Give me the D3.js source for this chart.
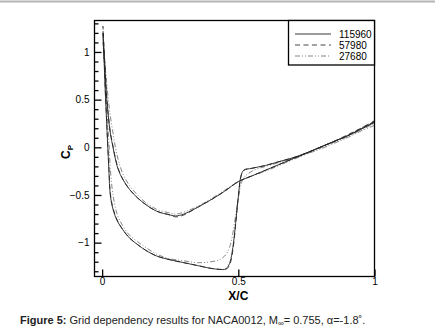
<!DOCTYPE html>
<html>
<head>
<meta http-equiv="Content-Type" content="text/html; charset=UTF-8">
<style>
body { margin: 0; background: #fff; }
text { font-family: Arial, "Liberation Sans", sans-serif; }
</style>
</head>
<body>
<svg width="435" height="332"></svg>
<script src="https://cdn.jsdelivr.net/npm/d3@7"></script>
<script>

// chordwise stations, lower (strong suction) and upper surface
var xLower = [0.003, 0.008, 0.012, 0.016, 0.02, 0.025, 0.03, 0.04, 0.055, 0.075, 0.1, 0.13, 0.16, 0.2, 0.25, 0.3, 0.35, 0.4, 0.43, 0.45, 0.46, 0.47, 0.48, 0.49, 0.5, 0.51, 0.52, 0.55, 0.6, 0.65, 0.7, 0.75, 0.8, 0.85, 0.9, 0.95, 1.0];
var xUpper = [0.003, 0.01, 0.016, 0.022, 0.03, 0.04, 0.05, 0.06, 0.075, 0.1, 0.13, 0.16, 0.2, 0.25, 0.27, 0.3, 0.35, 0.4, 0.45, 0.5, 0.55, 0.6, 0.65, 0.7, 0.75, 0.8, 0.85, 0.9, 0.95, 1.0];

var cpLower115960 = [1.2, 0.85, 0.55, 0.3, 0.05, -0.25, -0.5, -0.65, -0.77, -0.86, -0.95, -1.02, -1.08, -1.14, -1.18, -1.21, -1.24, -1.27, -1.28, -1.28, -1.26, -1.2, -1.05, -0.8, -0.52, -0.3, -0.24, -0.22, -0.19, -0.15, -0.11, -0.06, 0.0, 0.06, 0.12, 0.19, 0.26];
var cpUpper115960 = [1.2, 0.85, 0.55, 0.35, 0.15, 0.0, -0.14, -0.24, -0.33, -0.44, -0.53, -0.6, -0.67, -0.71, -0.72, -0.7, -0.63, -0.55, -0.46, -0.36, -0.3, -0.24, -0.18, -0.12, -0.06, 0.0, 0.06, 0.12, 0.19, 0.27];

var cpLower57980 = [1.27, 0.9, 0.58, 0.32, 0.07, -0.22, -0.48, -0.64, -0.76, -0.86, -0.95, -1.02, -1.08, -1.14, -1.18, -1.21, -1.24, -1.27, -1.28, -1.28, -1.27, -1.22, -1.08, -0.82, -0.52, -0.3, -0.24, -0.22, -0.19, -0.15, -0.11, -0.06, 0.0, 0.06, 0.12, 0.2, 0.27];
var cpUpper57980 = [1.27, 0.88, 0.57, 0.36, 0.16, 0.01, -0.13, -0.23, -0.33, -0.44, -0.53, -0.6, -0.67, -0.71, -0.73, -0.71, -0.63, -0.55, -0.46, -0.36, -0.3, -0.24, -0.18, -0.12, -0.06, 0.0, 0.06, 0.13, 0.2, 0.28];

var cpLower27680 = [1.1, 0.88, 0.68, 0.48, 0.28, 0.05, -0.22, -0.5, -0.7, -0.82, -0.92, -0.99, -1.05, -1.12, -1.17, -1.19, -1.21, -1.2, -1.18, -1.14, -1.1, -1.03, -0.9, -0.72, -0.53, -0.39, -0.32, -0.25, -0.2, -0.16, -0.12, -0.07, -0.02, 0.04, 0.1, 0.17, 0.23];
var cpUpper27680 = [1.1, 0.9, 0.7, 0.52, 0.33, 0.15, -0.02, -0.14, -0.27, -0.4, -0.5, -0.58, -0.65, -0.69, -0.7, -0.68, -0.62, -0.54, -0.45, -0.36, -0.3, -0.25, -0.19, -0.13, -0.07, -0.01, 0.05, 0.11, 0.18, 0.25];

var gridNames = ["115960", "57980", "27680"];
var xTicks = [0, 0.5, 1];
var yTicks = [-1, -0.5, 0, 0.5, 1];

var svg = d3.select("svg"),
    plot = {left: 94.5, right: 374.5, top: 20.5, bottom: 276.5};

var x = d3.scaleLinear().domain([-0.028, 1]).range([plot.left, plot.right]),
    y = d3.scaleLinear().domain([-1.355, 1.33]).range([plot.bottom, plot.top]);

// grey rule across the top of the page
svg.append("line")
    .attr("x1", 0).attr("x2", 435).attr("y1", 1.5).attr("y2", 1.5)
    .style("stroke", "#b4b4b4").style("stroke-width", 2);

var styles = [
  { color: "#222", dash: null },
  { color: "#333", dash: "5,3.5" },
  { color: "#777", dash: "5,2,1,2,1,2" }
];

var series = [
  { name: gridNames[0], lower: cpLower115960, upper: cpUpper115960 },
  { name: gridNames[1], lower: cpLower57980, upper: cpUpper57980 },
  { name: gridNames[2], lower: cpLower27680, upper: cpUpper27680 }
];

series.forEach(function(s) {
  var pts = [];
  for (var i = xLower.length - 1; i >= 0; i--) pts.push([xLower[i], s.lower[i]]);
  for (var j = 1; j < xUpper.length; j++) pts.push([xUpper[j], s.upper[j]]);
  s.points = pts;
});

svg.append("clipPath").attr("id", "plotclip")
  .append("rect")
    .attr("x", plot.left).attr("y", plot.top)
    .attr("width", plot.right - plot.left).attr("height", plot.bottom - plot.top);

var line = d3.line()
    .x(function(d) { return x(d[0]); })
    .y(function(d) { return y(d[1]); })
    .curve(d3.curveCatmullRom.alpha(0.5));

svg.append("g").attr("clip-path", "url(#plotclip)")
  .selectAll("path")
  .data(series.slice().reverse())
  .enter().append("path")
    .attr("d", function(d) { return line(d.points); })
    .style("fill", "none")
    .style("stroke", function(d) { return styles[gridNames.indexOf(d.name)].color; })
    .style("stroke-width", 0.9)
    .style("stroke-dasharray", function(d) { return styles[gridNames.indexOf(d.name)].dash; });

// axes, ticks pointing inward
svg.append("g")
    .attr("transform", "translate(" + plot.left + ",0)")
    .call(d3.axisLeft(y).tickValues(yTicks).tickSize(-7).tickPadding(5)
      .tickFormat(function(d) { return d3.format("")(d); }));

svg.append("g")
    .attr("transform", "translate(" + plot.left + ",0)")
    .call(d3.axisLeft(y).tickValues(d3.range(-13, 14).map(function(v) { return v / 10; })
        .filter(function(v) { return Math.abs(v * 2 - Math.round(v * 2)) > 1e-6; }))
      .tickSize(-4).tickFormat(""));

svg.append("g")
    .attr("transform", "translate(0," + plot.bottom + ")")
    .call(d3.axisBottom(x).tickValues(xTicks).tickSize(-7).tickPadding(1)
      .tickFormat(function(d) { return d3.format("")(d); }));

svg.selectAll(".domain").remove();
svg.selectAll(".tick line").style("stroke", "#000").style("stroke-width", 1.3);
svg.selectAll(".tick text")
    .style("font-family", "Arial, 'Liberation Sans', sans-serif")
    .style("font-size", "10px").style("fill", "#000");

// frame
svg.append("rect")
    .attr("x", plot.left).attr("y", plot.top)
    .attr("width", plot.right - plot.left).attr("height", plot.bottom - plot.top)
    .style("fill", "none").style("stroke", "#000").style("stroke-width", 1.3);

// legend
var lx = 288.5, ly = plot.top, lw = plot.right - lx, lh = 44.5;
svg.append("rect")
    .attr("x", lx).attr("y", ly).attr("width", lw).attr("height", lh)
    .style("fill", "#fff").style("stroke", "#000").style("stroke-width", 1.3);

var legend = svg.selectAll(".legend")
    .data(gridNames)
    .enter().append("g")
      .attr("class", "legend")
      .attr("transform", function(d, i) { return "translate(0," + (34 + i * 11) + ")"; });

legend.append("line")
    .attr("x1", 295).attr("x2", 331).attr("y1", 0).attr("y2", 0)
    .style("stroke", function(d, i) { return styles[i].color; })
    .style("stroke-width", 0.9)
    .style("stroke-dasharray", function(d, i) { return styles[i].dash; });

legend.append("text")
    .attr("x", 339).attr("y", 0).attr("dy", ".35em")
    .style("font-size", "10px")
    .text(function(d) { return d; });

// axis titles
svg.append("text")
    .attr("x", x(0.5)).attr("y", 300)
    .style("font-size", "12px").style("font-weight", "bold")
    .style("text-anchor", "middle")
    .text("X/C");

var cp = svg.append("text")
    .attr("transform", "translate(70,152) rotate(-90)")
    .style("font-size", "12px").style("font-weight", "bold")
    .style("text-anchor", "middle");
cp.append("tspan").text("C");
cp.append("tspan").attr("dy", 3).style("font-size", "8px").text("P");

// caption
var cap = svg.append("text")
    .attr("x", 20).attr("y", 324)
    .style("font-size", "11px").style("fill", "#222");
cap.append("tspan").style("font-weight", "bold").text("Figure 5:");
cap.append("tspan").text(" Grid dependency results for NACA0012, M");
cap.append("tspan").attr("dy", 2).style("font-size", "8px").text("\u221e");
cap.append("tspan").attr("dy", -2).text("= 0.755, \u03b1=-1.8\u02da.");

</script>
</body></html>
